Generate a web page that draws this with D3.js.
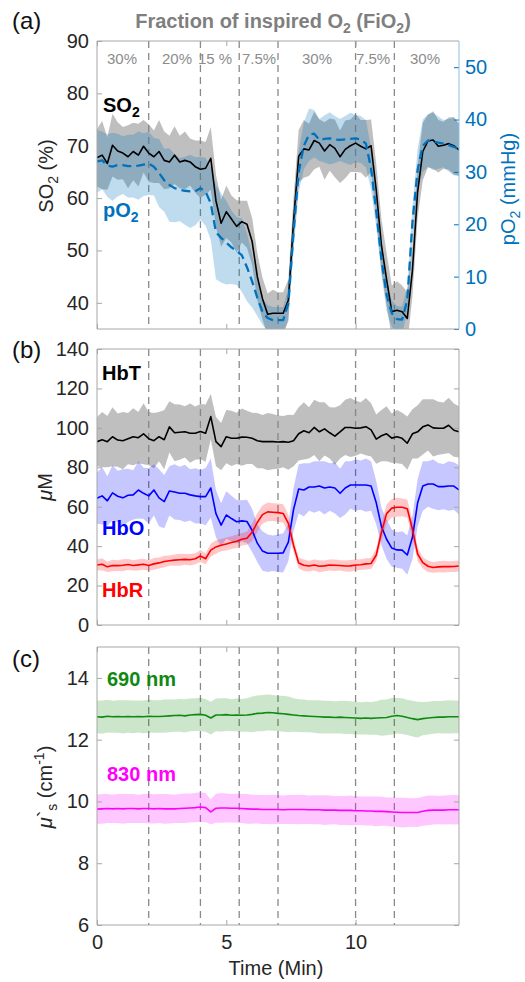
<!DOCTYPE html>
<html>
<head>
<meta charset="utf-8">
<script src="https://cdn.jsdelivr.net/npm/d3@7"></script>
<style>
  body { margin: 0; background: #fff; }
  svg text { font-family: "Liberation Sans", Arial, Helvetica, sans-serif; }
</style>
</head>
<body>
<svg id="fig" width="525" height="982"></svg>
<script>
/*
  three stacked panels: SO2/pO2, hemoglobin, scattering
*/

// sample times (min)
var time = [0.0,0.2,0.4,0.6,0.8,1.0,1.2,1.4,1.6,1.8,2.0,2.2,2.4,2.6,2.8,3.0,3.2,3.4,3.6,3.8,
  4.0,4.2,4.4,4.6,4.8,5.0,5.2,5.4,5.6,5.8,6.0,6.2,6.4,6.6,6.8,7.0,7.2,7.4,7.6,7.8,
  8.0,8.2,8.4,8.6,8.8,9.0,9.2,9.4,9.6,9.8,10.0,10.2,10.4,10.6,10.8,11.0,11.2,11.4,11.6,11.8,
  12.0,12.2,12.4,12.6,12.8,13.0,13.2,13.4,13.6,13.8,14.0];

// FiO2 changes and their labels
var switchTimes = [2, 4, 5.5, 7, 10, 11.5];
var fioLabels = ["30%", "20%", "15 %", "7.5%", "30%", "7.5%", "30%"];
var fioLabelX = [122, 177, 215, 259, 317, 373, 425];

// (a) SO2 (%) and pO2 (mmHg)
var so2 = [67.7,68.2,66.6,70.1,69.0,68.6,67.9,68.9,68.2,69.9,
  68.6,67.9,68.9,67.2,66.9,68.2,66.9,67.2,66.9,66.0,
  65.5,65.7,67.6,59.5,55.2,57.4,56.0,54.6,55.5,55.0,
  51.7,45.0,40.8,37.8,38.0,38.0,38.0,40.5,55.5,68.0,
  69.4,69.2,71.0,70.5,69.0,70.2,69.5,67.9,69.3,70.0,
  70.5,69.9,69.4,70.0,61.5,51.0,44.5,38.3,38.6,38.3,
  37.0,46.3,61.2,68.9,70.9,71.1,69.9,70.1,70.4,70.0,69.2];
var so2Sd = [5.5,6.5,5.0,6.0,5.5,5.0,6.0,5.5,6.0,5.0,
  5.5,5.0,6.0,5.5,5.0,5.5,5.0,5.5,4.5,5.0,
  5.5,5.0,6.0,5.0,4.5,5.0,4.5,5.0,4.0,4.5,
  4.5,4.5,4.0,4.0,4.5,4.0,4.0,4.0,4.5,5.0,
  5.5,5.0,5.5,4.5,5.5,5.0,5.5,5.0,5.5,5.0,
  5.5,5.0,5.5,5.0,5.0,5.0,5.0,5.0,5.5,5.0,
  5.0,5.0,5.0,5.5,5.0,5.5,5.0,4.5,5.0,5.5,5.0];
var po2 = [32.0,32.2,31.2,31.0,31.3,31.3,31.1,31.1,31.2,31.4,
  31.6,31.0,29.8,28.4,27.5,26.9,26.6,26.4,26.3,26.3,
  26.9,26.2,24.0,18.5,17.4,16.5,15.6,14.9,14.1,11.8,
  9.1,6.0,3.3,2.1,1.7,1.7,1.7,4.9,18.5,30.0,
  35.0,37.1,37.3,36.1,36.3,36.4,36.2,36.1,36.2,36.3,
  36.4,36.2,35.4,30.6,22.4,13.4,6.5,3.0,1.9,1.8,
  5.5,20.4,30.4,35.0,36.0,35.8,35.6,35.4,35.1,34.8,34.3];
var po2Sd = [6,5.5,6,6.5,6,5.5,6,6,6.5,6,
  6,5.5,6.5,6,7,6.5,6,6.5,7,6.5,
  6,6.5,7,9,8.5,8,7,6.5,7,6.5,
  5,3.5,2.5,2.5,2.5,2.5,2.5,3,3.5,4,
  4.5,5,4.5,4,4.5,5,4.5,4,4.5,5,
  4.5,4.5,4.5,4,3,3,3,2.5,2.5,2.5,
  2.5,3,4,5,5,5.5,5,4.5,5,5.5,5];

// (b) hemoglobin (uM)
var hbt = [93.0,94.0,93.0,95.5,93.8,93.5,94.5,95.5,95.0,97.0,
  94.5,93.5,95.5,94.0,100.5,97.5,97.8,98.0,97.3,97.3,
  98.1,97.3,105.7,93.0,90.5,95.5,94.7,94.7,95.3,95.2,
  94.7,93.5,93.0,93.0,93.0,92.8,93.0,92.7,93.5,97.0,
  98.5,97.5,100.2,98.0,99.5,97.5,95.8,98.0,100.2,100.2,
  99.8,100.0,100.6,99.0,94.3,96.0,97.0,94.8,95.5,94.7,
  92.2,97.0,98.0,100.5,101.5,100.0,99.8,99.8,101.3,98.8,98.0];
var hbtSd = [12.5,14.0,13.0,15.0,13.5,14.5,13.0,14.5,13.0,15.5,
  13.5,14.0,12.5,15.0,13.0,14.5,14.0,13.0,15.0,13.5,
  14.0,14.5,11.5,12.5,12.0,13.5,14.0,13.0,14.5,13.5,
  13.0,14.0,13.5,14.5,14.0,13.5,13.0,14.0,13.0,13.5,
  14.5,13.0,14.0,15.0,13.5,13.0,14.5,13.5,14.0,15.0,
  14.0,13.0,14.5,13.5,12.5,13.0,14.0,12.5,13.5,13.0,
  13.5,12.5,13.5,14.0,13.0,14.5,13.5,13.0,14.0,13.5,13.0];
var hbo = [64.3,65.5,63.0,67.0,65.3,64.5,65.8,66.0,68.5,66.8,
  65.5,68.5,64.5,62.6,68.0,67.5,66.8,66.8,66.0,65.5,
  65.1,65.1,69.5,56.5,50.7,55.8,54.0,52.4,52.8,52.5,
  48.0,41.5,37.5,36.4,36.4,36.4,36.6,42.0,58.5,69.0,
  68.5,70.0,70.0,70.5,69.5,70.0,69.5,66.8,69.5,71.0,
  71.0,71.0,71.0,70.5,62.0,50.0,43.5,39.0,38.1,38.0,
  35.5,44.5,62.0,70.5,71.5,71.5,70.2,70.2,70.5,70.5,68.5];
var hboSd = [13.0,14.5,12.5,14.0,13.0,14.5,13.5,12.5,14.5,13.0,
  14.0,13.0,14.5,13.5,12.5,14.0,13.5,14.5,13.0,14.0,
  13.5,14.5,15.0,12.0,11.0,12.0,11.5,11.0,10.5,11.0,
  11.0,9.5,10.0,9.5,9.0,9.5,10.0,9.5,11.0,12.5,
  13.5,12.0,13.0,12.5,13.5,12.0,13.0,12.5,13.5,12.0,
  13.0,12.5,13.5,12.5,11.0,9.5,10.0,9.5,9.0,9.5,
  10.0,11.0,12.0,12.5,11.5,12.5,12.0,11.5,12.5,12.0,12.5];
var hbr = [30.4,30.8,29.5,30.2,30.1,30.3,30.7,30.2,30.5,30.8,
  30.2,31.0,31.5,32.2,32.6,32.9,33.1,33.3,33.1,33.6,
  35.0,33.6,38.0,39.6,40.5,41.1,41.8,42.5,43.5,44.0,
  47.0,52.0,56.0,57.4,57.2,57.0,56.6,51.6,40.5,31.5,
  30.3,29.9,30.4,29.8,30.0,30.4,30.3,30.2,29.9,30.0,
  30.4,30.6,31.0,31.2,35.5,47.0,56.5,59.3,59.7,59.7,
  59.0,48.5,36.0,31.6,29.8,29.2,29.5,29.6,29.6,29.7,29.9];
var hbrSd = [2.8,3.0,2.6,2.9,2.7,3.0,2.8,2.6,2.9,2.8,
  2.7,3.0,2.8,2.9,2.6,2.8,3.0,2.7,2.9,2.8,
  3.0,2.8,3.2,3.4,3.1,3.3,3.2,3.4,3.2,3.3,
  4.5,4.8,4.6,4.8,4.5,4.6,4.7,4.5,3.5,2.8,
  2.9,2.7,2.8,3.0,2.7,2.8,2.9,2.6,2.8,3.0,
  2.8,2.7,2.9,2.8,3.2,4.5,4.7,4.6,4.8,4.5,
  4.6,4.5,3.5,2.8,2.9,2.7,2.8,3.0,2.7,2.8,2.8];

// (c) reduced scattering (cm-1)
var mus690 = [12.74,12.73,12.76,12.74,12.75,12.74,12.75,12.74,12.75,12.74,
  12.76,12.75,12.75,12.76,12.77,12.78,12.79,12.77,12.80,12.81,
  12.82,12.79,12.70,12.80,12.80,12.81,12.79,12.80,12.79,12.80,
  12.82,12.85,12.86,12.88,12.87,12.85,12.84,12.82,12.80,12.78,
  12.77,12.76,12.75,12.74,12.73,12.73,12.72,12.73,12.72,12.71,
  12.70,12.69,12.70,12.69,12.70,12.71,12.72,12.76,12.78,12.76,
  12.72,12.68,12.65,12.68,12.70,12.72,12.73,12.73,12.74,12.74,12.74];
var mus690Sd = [0.53,0.54,0.53,0.52,0.53,0.54,0.53,0.53,0.52,0.53,
  0.54,0.53,0.53,0.54,0.53,0.52,0.53,0.54,0.53,0.53,
  0.54,0.53,0.53,0.53,0.54,0.53,0.52,0.53,0.53,0.54,
  0.58,0.58,0.59,0.58,0.58,0.57,0.58,0.58,0.54,0.53,
  0.53,0.52,0.53,0.54,0.53,0.53,0.52,0.53,0.54,0.53,
  0.53,0.52,0.53,0.53,0.54,0.58,0.58,0.59,0.58,0.58,
  0.57,0.58,0.58,0.54,0.53,0.53,0.52,0.53,0.54,0.53,0.53];
var mus830 = [9.75,9.76,9.77,9.76,9.77,9.76,9.77,9.77,9.76,9.77,
  9.77,9.76,9.77,9.76,9.76,9.76,9.77,9.78,9.79,9.80,
  9.82,9.80,9.66,9.78,9.79,9.79,9.78,9.78,9.77,9.76,
  9.75,9.75,9.74,9.74,9.74,9.74,9.73,9.74,9.74,9.74,
  9.74,9.73,9.73,9.73,9.72,9.72,9.72,9.71,9.71,9.71,
  9.70,9.70,9.69,9.69,9.68,9.68,9.67,9.66,9.65,9.64,
  9.64,9.64,9.64,9.68,9.71,9.72,9.72,9.72,9.73,9.73,9.73];
var mus830Sd = [0.47,0.48,0.47,0.46,0.47,0.48,0.47,0.47,0.46,0.47,
  0.48,0.47,0.47,0.48,0.47,0.46,0.47,0.48,0.47,0.47,
  0.48,0.47,0.40,0.47,0.48,0.47,0.46,0.47,0.47,0.48,
  0.47,0.46,0.47,0.47,0.48,0.47,0.46,0.47,0.47,0.48,
  0.47,0.46,0.47,0.47,0.48,0.47,0.46,0.47,0.47,0.48,
  0.47,0.46,0.47,0.47,0.48,0.47,0.46,0.47,0.47,0.48,
  0.47,0.46,0.47,0.47,0.48,0.47,0.46,0.47,0.47,0.48,0.47];

// tick values
var xTicks = [0, 5, 10];
var so2Ticks = [40, 50, 60, 70, 80, 90];
var po2Ticks = [0, 10, 20, 30, 40, 50];
var hbTicks = [0, 20, 40, 60, 80, 100, 120, 140];
var musTicks = [6, 8, 10, 12, 14];

var svg = d3.select("#fig");
var L = 97, R = 459;
var boxColor = "#a6a6a6";
var tickText = "#262626";
var matBlue = "#0072BD";

var x = d3.scaleLinear().domain([0, 14]).range([L, R]);

// write text with sub/superscripts: parts = [[str, 0|1|-1, italic], ...]
function richText(g, px, py, parts, attrs) {
  var t = g.append("text").attr("x", px).attr("y", py);
  for (var k in attrs) t.attr(k, attrs[k]);
  var shift = 0;
  parts.forEach(function(p) {
    var s = t.append("tspan").text(p[0]);
    var target = p[1] == 1 ? 5 : (p[1] == -1 ? -8 : 0);
    s.attr("dy", target - shift);
    shift = target;
    if (p[1] != 0) s.attr("font-size", "70%");
    if (p[2]) s.attr("font-style", "italic");
  });
  return t;
}

function panel(top, bottom, y, ticks, showX, id) {
  var g = svg.append("g");
  g.append("clipPath").attr("id", id)
    .append("rect").attr("x", L).attr("y", top).attr("width", R - L).attr("height", bottom - top);
  var body = g.append("g").attr("clip-path", "url(#" + id + ")");

  // left axis with labels
  var ax = g.append("g").attr("transform", "translate(" + L + ",0)")
    .call(d3.axisLeft(y).tickValues(ticks).tickSize(-5).tickPadding(8));
  ax.select(".domain").remove();
  ax.selectAll("line").attr("stroke", boxColor);
  ax.selectAll("text").attr("font-size", 20).attr("fill", tickText)
    .style("font-family", "'Liberation Sans', Arial, sans-serif");

  // bottom / top ticks
  var bx = g.append("g").attr("transform", "translate(0," + bottom + ")")
    .call(d3.axisBottom(x).tickValues(xTicks).tickSize(-5).tickPadding(10)
      .tickFormat(showX ? d3.format("d") : ""));
  bx.select(".domain").remove();
  bx.selectAll("line").attr("stroke", boxColor);
  bx.selectAll("text").attr("font-size", 20).attr("fill", tickText)
    .style("font-family", "'Liberation Sans', Arial, sans-serif");
  var tx = g.append("g").attr("transform", "translate(0," + top + ")")
    .call(d3.axisTop(x).tickValues(xTicks).tickSize(-5).tickFormat(""));
  tx.select(".domain").remove();
  tx.selectAll("line").attr("stroke", boxColor);

  // FiO2 switch markers
  body.selectAll(".sw").data(switchTimes).enter().append("line")
    .attr("x1", function(d) { return x(d); }).attr("x2", function(d) { return x(d); })
    .attr("y1", top).attr("y2", bottom)
    .attr("stroke", "#8a8a8a").attr("stroke-width", 1.3).attr("stroke-dasharray", "7,5");

  return {g: g, body: body};
}

function band(body, y, mean, sd, color, op) {
  var area = d3.area()
    .x(function(d, i) { return x(time[i]); })
    .y0(function(d, i) { return y(mean[i] - sd[i]); })
    .y1(function(d, i) { return y(mean[i] + sd[i]); });
  body.append("path").datum(mean).attr("d", area)
    .attr("fill", color).attr("fill-opacity", op).attr("stroke", "none");
}

function trace(body, y, mean, color, w, dash) {
  var line = d3.line()
    .x(function(d, i) { return x(time[i]); })
    .y(function(d) { return y(d); });
  var p = body.append("path").datum(mean).attr("d", line)
    .attr("fill", "none").attr("stroke", color).attr("stroke-width", w)
    .attr("stroke-linejoin", "round");
  if (dash) p.attr("stroke-dasharray", dash);
}

function frame(g, top, bottom, rightColor) {
  g.append("line").attr("x1", L).attr("x2", R).attr("y1", top).attr("y2", top).attr("stroke", boxColor);
  g.append("line").attr("x1", L).attr("x2", R).attr("y1", bottom).attr("y2", bottom).attr("stroke", boxColor);
  g.append("line").attr("x1", L).attr("x2", L).attr("y1", top).attr("y2", bottom).attr("stroke", boxColor);
  g.append("line").attr("x1", R).attr("x2", R).attr("y1", top).attr("y2", bottom)
    .attr("stroke", rightColor || boxColor);
}

function mirrorRight(g, y, ticks) {
  var ax = g.append("g").attr("transform", "translate(" + R + ",0)")
    .call(d3.axisRight(y).tickValues(ticks).tickSize(-5).tickFormat(""));
  ax.select(".domain").remove();
  ax.selectAll("line").attr("stroke", boxColor);
}

/* ---------- panel (a) ---------- */
var aTop = 41, aBot = 329;
var ya = d3.scaleLinear().domain([35, 90]).range([aBot, aTop]);
var yaR = d3.scaleLinear().domain([0, 55]).range([aBot, aTop]);
var pa = panel(aTop, aBot, ya, so2Ticks, false, "clipA");
band(pa.body, ya, so2, so2Sd, "#7f7f7f", 0.5);
band(pa.body, yaR, po2, po2Sd, matBlue, 0.25);
trace(pa.body, ya, so2, "#000", 1.6);
trace(pa.body, yaR, po2, matBlue, 2.3, "9,5");

var rax = pa.g.append("g").attr("transform", "translate(" + R + ",0)")
  .call(d3.axisRight(yaR).tickValues(po2Ticks).tickSize(-5).tickPadding(6));
rax.select(".domain").remove();
rax.selectAll("line").attr("stroke", matBlue);
rax.selectAll("text").attr("font-size", 20).attr("fill", matBlue)
  .style("font-family", "'Liberation Sans', Arial, sans-serif");
frame(pa.g, aTop, aBot, "#8cbfe3");

pa.g.selectAll(".fio").data(fioLabels).enter().append("text")
  .attr("x", function(d, i) { return fioLabelX[i]; }).attr("y", 64)
  .attr("text-anchor", "middle").attr("font-size", 15).attr("fill", "#8c8c8c")
  .text(function(d) { return d; });

richText(svg, 273, 28, [["Fraction of inspired O", 0], ["2", 1], [" (FiO", 0], ["2", 1], [")", 0]],
  {"text-anchor": "middle", "font-size": 20, "font-weight": "bold", "fill": "#7f7f7f"});
svg.append("text").attr("x", 12).attr("y", 29).attr("font-size", 24).attr("fill", "#111").text("(a)");
richText(svg, 103, 112, [["SO", 0], ["2", 1]], {"font-size": 20, "font-weight": "bold", "fill": "#000"});
richText(svg, 103, 217, [["pO", 0], ["2", 1]], {"font-size": 20, "font-weight": "bold", "fill": matBlue});
richText(svg, 0, 0, [["SO", 0], ["2", 1], [" (%)", 0]],
  {"text-anchor": "middle", "font-size": 20, "fill": tickText, "transform": "translate(53,176) rotate(-90)"});
richText(svg, 0, 0, [["pO", 0], ["2", 1], [" (mmHg)", 0]],
  {"text-anchor": "middle", "font-size": 20, "fill": matBlue, "transform": "translate(515,189) rotate(-90)"});

/* ---------- panel (b) ---------- */
var bTop = 349, bBot = 625;
var yb = d3.scaleLinear().domain([0, 140]).range([bBot, bTop]);
var pb = panel(bTop, bBot, yb, hbTicks, false, "clipB");
band(pb.body, yb, hbt, hbtSd, "#7f7f7f", 0.5);
band(pb.body, yb, hbo, hboSd, "#0000ff", 0.22);
band(pb.body, yb, hbr, hbrSd, "#ff0000", 0.22);
trace(pb.body, yb, hbt, "#000", 1.6);
trace(pb.body, yb, hbo, "#0000ff", 1.6);
trace(pb.body, yb, hbr, "#ff0000", 1.6);
mirrorRight(pb.g, yb, hbTicks);
frame(pb.g, bTop, bBot);

svg.append("text").attr("x", 12).attr("y", 358).attr("font-size", 24).attr("fill", "#111").text("(b)");
svg.append("text").attr("x", 102).attr("y", 380).attr("font-size", 20).attr("font-weight", "bold").attr("fill", "#000").text("HbT");
svg.append("text").attr("x", 102).attr("y", 535).attr("font-size", 20).attr("font-weight", "bold").attr("fill", "#0000ff").text("HbO");
svg.append("text").attr("x", 102).attr("y", 597).attr("font-size", 20).attr("font-weight", "bold").attr("fill", "#ff0000").text("HbR");
richText(svg, 0, 0, [["\u03bc", 0, true], ["M", 0]],
  {"text-anchor": "middle", "font-size": 20, "fill": tickText, "transform": "translate(52,487) rotate(-90)"});

/* ---------- panel (c) ---------- */
var cTop = 647, cBot = 925;
var yc = d3.scaleLinear().domain([6, 15]).range([cBot, cTop]);
var pc = panel(cTop, cBot, yc, musTicks, true, "clipC");
band(pc.body, yc, mus690, mus690Sd, "#008000", 0.2);
band(pc.body, yc, mus830, mus830Sd, "#ff00ff", 0.22);
trace(pc.body, yc, mus690, "#118811", 1.6);
trace(pc.body, yc, mus830, "#ff00ff", 1.6);
mirrorRight(pc.g, yc, musTicks);
frame(pc.g, cTop, cBot);

svg.append("text").attr("x", 12).attr("y", 667).attr("font-size", 24).attr("fill", "#111").text("(c)");
svg.append("text").attr("x", 107).attr("y", 686).attr("font-size", 20).attr("font-weight", "bold").attr("fill", "#118811").text("690 nm");
svg.append("text").attr("x", 107).attr("y", 781).attr("font-size", 20).attr("font-weight", "bold").attr("fill", "#ff00ff").text("830 nm");
richText(svg, 0, 0, [["\u03bc", 0, true], ["`", 0], ["s", 1], [" (cm", 0], ["-1", -1], [")", 0]],
  {"text-anchor": "middle", "font-size": 20, "fill": tickText, "transform": "translate(52,787) rotate(-90)"});
svg.append("text").attr("x", 276).attr("y", 975).attr("text-anchor", "middle")
  .attr("font-size", 20).attr("fill", tickText).text("Time (Min)");
</script>
</body>
</html>
